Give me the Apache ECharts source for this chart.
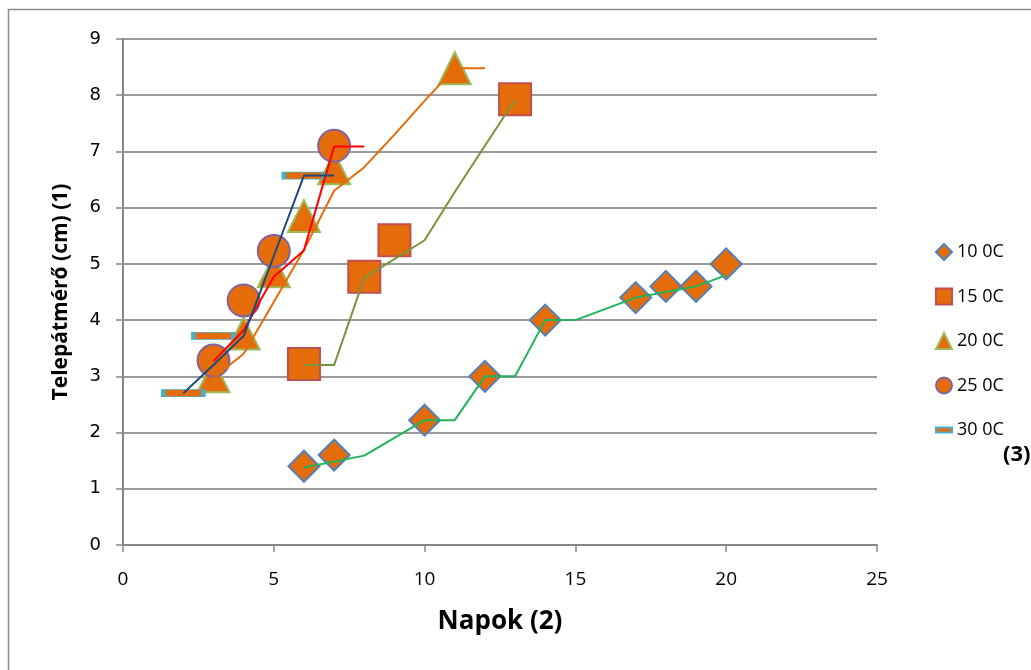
<!DOCTYPE html>
<html><head><meta charset="utf-8">
<script src="https://cdn.jsdelivr.net/npm/echarts@6/dist/echarts.min.js"></script>
<style>html,body{margin:0;padding:0;background:#fff}#c{width:1031px;height:670px}</style>
</head><body><div id="c"></div>
<script>
// ---- data ----
const seriesNames = ['10 0C', '15 0C', '20 0C', '25 0C', '30 0C'];

const days10 = [6, 7, 10, 12, 14, 17, 18, 19, 20];
const size10 = [1.4, 1.6, 2.22, 3.0, 4.0, 4.4, 4.6, 4.6, 5.0];
const trendX10 = [6, 8, 10, 11, 12, 13, 14, 15, 17, 18, 19, 20];
const trendY10 = [1.38, 1.59, 2.22, 2.22, 3.0, 3.0, 4.0, 4.0, 4.4, 4.5, 4.6, 4.8];

const days15 = [6, 8, 9, 13];
const size15 = [3.22, 4.77, 5.42, 7.93];
const trendX15 = [6, 7, 8, 10, 11, 12, 13];
const trendY15 = [3.2, 3.2, 4.75, 5.42, 6.28, 7.1, 7.92];

const days20 = [3, 4, 5, 6, 7, 11];
const size20 = [3.0, 3.76, 4.87, 5.85, 6.7, 8.48];
const trendX20 = [3, 4, 5, 6, 7, 8, 9, 10, 11, 12];
const trendY20 = [2.97, 3.4, 4.32, 5.25, 6.3, 6.72, 7.3, 7.9, 8.48, 8.48];

const days25 = [3, 4, 5, 7];
const size25 = [3.28, 4.35, 5.23, 7.1];
const trendX25 = [3, 4, 5, 6, 7, 8];
const trendY25 = [3.27, 3.82, 4.77, 5.24, 7.09, 7.09];

const days30 = [2, 3, 6];
const size30 = [2.7, 3.72, 6.57];
const trendX30 = [2, 3, 4, 5, 6, 7];
const trendY30 = [2.7, 3.2, 3.72, 5.14, 6.57, 6.57];

const xName = 'Napok (2)';
const yName = 'Telepátmérő (cm) (1)';
const extraLabel = '(3)';

// ---- build ----
const zip = (xs, ys) => xs.map((x, i) => [x, ys[i]]);
const FILL = '#e46c0a';

const markerDefs = [
  { name: seriesNames[0], xs: days10, ys: size10, symbol: 'diamond', size: 31, border: '#4f81bd', lineColor: '#21b35b', tx: trendX10, ty: trendY10 },
  { name: seriesNames[1], xs: days15, ys: size15, symbol: 'rect', size: 32, border: '#c0504d', lineColor: '#77933c', tx: trendX15, ty: trendY15 },
  { name: seriesNames[2], xs: days20, ys: size20, symbol: 'triangle', size: [32, 32], border: '#9bbb59', lineColor: '#e46c0a', tx: trendX20, ty: trendY20 },
  { name: seriesNames[3], xs: days25, ys: size25, symbol: 'circle', size: 32, border: '#8064a2', lineColor: '#ff0000', tx: trendX25, ty: trendY25 },
  { name: seriesNames[4], xs: days30, ys: size30, symbol: 'rect', size: [40, 7], border: '#4bacc6', lineColor: '#1f497d', tx: trendX30, ty: trendY30 }
];

const series = [];
markerDefs.forEach(d => {
  series.push({
    name: d.name, type: 'scatter', data: zip(d.xs, d.ys),
    symbol: d.symbol, symbolSize: d.size, z: 2,
    itemStyle: { color: FILL, borderColor: d.border, borderWidth: 2, opacity: 1 },
    emphasis: { disabled: true }
  });
});
markerDefs.forEach(d => {
  series.push({
    name: d.name + ' trend', type: 'line', data: zip(d.tx, d.ty),
    symbol: 'none', showSymbol: false, z: 3,
    lineStyle: { color: d.lineColor, width: 2 },
    emphasis: { disabled: true }
  });
});

const legendIcons = ['diamond', 'rect', 'triangle', 'circle', 'path://M0,0H16V5H0Z'];

const chart = echarts.init(document.getElementById('c'), null, { renderer: 'canvas' });
chart.setOption({
  animation: false,
  backgroundColor: '#fff',
  grid: { left: 123, right: 154, top: 39, bottom: 125, containLabel: false },
  xAxis: {
    type: 'value', min: 0, max: 25, interval: 5,
    name: xName, nameLocation: 'middle', nameGap: 64,
    nameTextStyle: { fontFamily: 'Open Sans', fontWeight: 'bold', fontSize: 26, color: '#000' },
    axisLine: { show: true, onZero: false, lineStyle: { color: '#868686', width: 2 } },
    axisTick: { show: true, length: 7, inside: false, lineStyle: { color: '#868686', width: 1.5 } },
    axisLabel: { margin: 25, fontFamily: 'Open Sans', fontSize: 19, color: '#000', showMinLabel: true, showMaxLabel: true },
    splitLine: { show: false }
  },
  yAxis: {
    type: 'value', min: 0, max: 9, interval: 1,
    name: yName, nameLocation: 'middle', nameGap: 51, nameRotate: 90,
    nameTextStyle: { fontFamily: 'Open Sans', fontWeight: 'bold', fontSize: 21, color: '#000' },
    axisLine: { show: true, onZero: false, lineStyle: { color: '#868686', width: 2 } },
    axisTick: { show: true, length: 7, inside: false, lineStyle: { color: '#868686', width: 1.5 } },
    axisLabel: { margin: 22, fontFamily: 'DejaVu Sans', fontSize: 18, color: '#000', showMinLabel: true, showMaxLabel: true },
    splitLine: { show: true, lineStyle: { color: '#9a9a9a', width: 2 } }
  },
  legend: {
    orient: 'vertical', left: 930, top: 238,
    itemWidth: 16, itemHeight: 16, itemGap: 26.5,
    selectedMode: false,
    textStyle: { fontFamily: 'Open Sans', fontSize: 18, color: '#000' },
    data: seriesNames.map((n, i) => ({ name: n, icon: legendIcons[i] }))
  },
  graphic: [
    { type: 'rect', shape: { x: 8.5, y: 9.5, width: 1100, height: 700 }, style: { fill: 'none', stroke: '#8a8a8a', lineWidth: 1.5 }, silent: true, z: -1 },
    { type: 'text', left: 1003, top: 444, style: { text: extraLabel, font: 'bold 22px "Open Sans"', fill: '#000' }, z: 100 }
  ],
  series: series
});
</script>
</body></html>
